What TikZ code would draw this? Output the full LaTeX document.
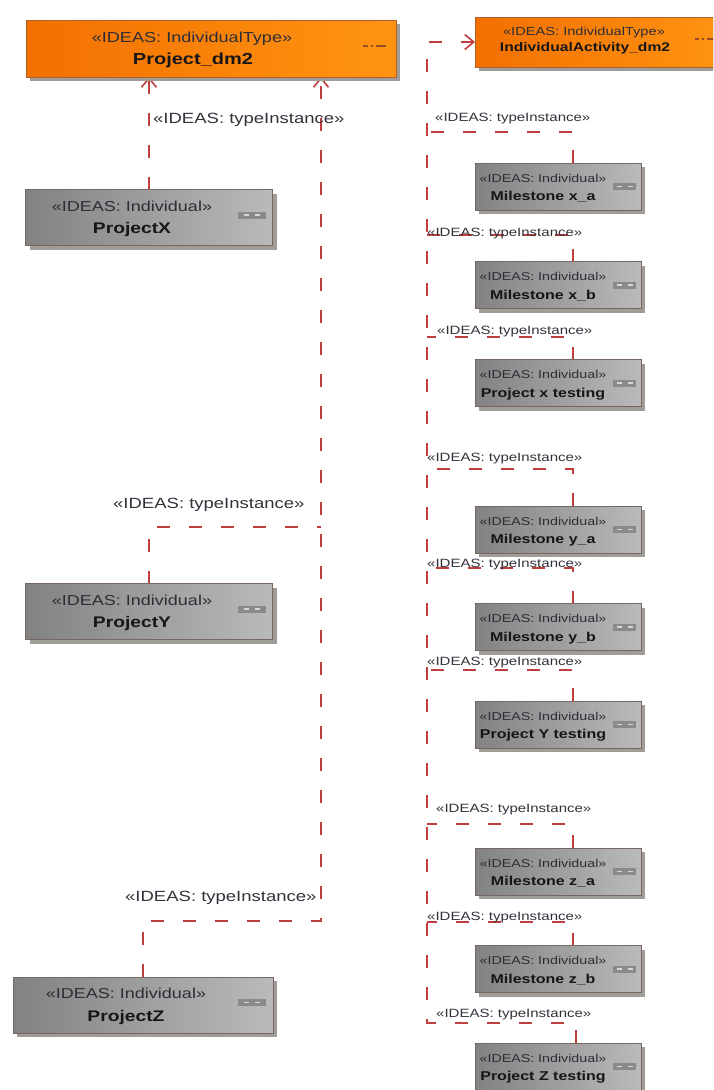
\documentclass[tikz,border=0pt]{standalone}
\usepackage{fontspec}
\setmainfont{Liberation Sans}[FakeStretch=1.25]
\usetikzlibrary{arrows.meta,shadows}

\definecolor{linkred}{RGB}{192,62,62}
\definecolor{orangeL}{RGB}{242,112,0}
\definecolor{orangeR}{RGB}{255,148,18}
\definecolor{orangeedge}{RGB}{176,96,40}
\definecolor{orangedash}{RGB}{150,78,40}
\definecolor{grayL}{RGB}{130,130,130}
\definecolor{grayR}{RGB}{186,186,186}
\definecolor{grayedge}{RGB}{118,104,96}
\definecolor{shadowc}{RGB}{160,156,152}
\definecolor{iconfill}{RGB}{138,138,138}
\definecolor{icondash}{RGB}{215,215,215}
\definecolor{sttext}{RGB}{45,45,55}
\definecolor{nmtext}{RGB}{22,22,22}
\definecolor{lbltext}{RGB}{50,50,60}

\pgfdeclarelayer{paper}
\pgfdeclarelayer{wires}
\pgfsetlayers{paper,wires,main}

% boxes for individuals on the right-hand column
\newcommand\rightind[3]{%
  \node[graybox, minimum width=166pt, minimum height=47pt] (#1) at (558,#2) {};
  \node[dotsicon=23pt] (#1-i) at ([xshift=-16.5pt]#1.east) {};
  \node[stsmall] (#1-s) at ([xshift=-15pt,yshift=8.5pt]#1.center) {«IDEAS: Individual»};
  \node[nmsmall] (#1-n) at ([xshift=-15pt,yshift=-9.5pt]#1.center) {#3};
}
% boxes for individuals on the left-hand column
\newcommand\leftind[5]{%
  \node[graybox, minimum width=#4, minimum height=56pt] (#1) at (#2,#3) {};
  \node[dotsicon=28pt] (#1-i) at ([xshift=-21pt,yshift=2.5pt]#1.east) {};
  \node[stbig] (#1-s) at ([xshift=-17pt,yshift=11.5pt]#1.center) {«IDEAS: Individual»};
  \node[nmbig] (#1-n) at ([xshift=-17pt,yshift=-10.5pt]#1.center) {#5};
}

\begin{document}
\begin{tikzpicture}[x=1pt,y=-1pt,
  conn/.style={draw=linkred, line width=1.8pt, dash pattern=on 13pt off 19pt},
  opentip/.style={-{Straight Barb[length=9pt,width=15pt,line width=1.6pt]}},
  boxbase/.style={rectangle, inner sep=0pt, outer sep=0pt, line width=0.8pt,
    drop shadow={shadow xshift=4pt, shadow yshift=-4pt, fill=shadowc, opacity=1}},
  orangebox/.style={boxbase, draw=orangeedge, left color=orangeL, right color=orangeR},
  graybox/.style={boxbase, draw=grayedge, left color=grayL, right color=grayR},
  dotsicon/.style={rectangle, fill=iconfill, minimum width=#1, minimum height=7pt,
    inner sep=0pt, path picture={
      \draw[icondash, line width=1.8pt]
        ([xshift=-8pt]path picture bounding box.center) -- ++(5pt,0pt)
        ([xshift=3pt]path picture bounding box.center) -- ++(5pt,0pt);}},
  txt/.style={inner sep=0pt, text depth=0pt},
  stbig/.style={txt, text=sttext, font=\fontsize{14.4pt}{16pt}\selectfont, text height=10.3pt},
  nmbig/.style={txt, text=nmtext, font=\fontsize{15.4pt}{18pt}\selectfont\bfseries, text height=11pt},
  stsmall/.style={txt, text=sttext, font=\fontsize{11.4pt}{13pt}\selectfont, text height=8.2pt},
  nmsmall/.style={txt, text=nmtext, font=\fontsize{12.8pt}{15pt}\selectfont\bfseries, text height=9.2pt},
  lblbig/.style={txt, anchor=west, text=lbltext, font=\fontsize{14.8pt}{17pt}\selectfont, text height=10.6pt},
  lblsmall/.style={txt, anchor=west, text=lbltext, font=\fontsize{12pt}{14pt}\selectfont, text height=8.6pt},
]
\useasboundingbox (0,0) rectangle (713,1090);
\begin{pgfonlayer}{paper}
  \fill[white] (0,0) rectangle (713,1090);
\end{pgfonlayer}
\clip (0,0) rectangle (713,1090);

% ---- types ----
\node[orangebox, minimum width=370pt, minimum height=57pt] (pd) at (211,48.5) {};
\node[txt, text=sttext, font=\fontsize{14.5pt}{16pt}\selectfont, text height=10.4pt]
  (pd-s) at ([xshift=-19pt,yshift=11.5pt]pd.center) {«IDEAS: IndividualType»};
\node[txt, text=nmtext, font=\fontsize{16pt}{18pt}\selectfont\bfseries, text height=11.5pt]
  (pd-n) at ([xshift=-18pt,yshift=-10.5pt]pd.center) {Project\_dm2};
\draw[orangedash, line width=1.6pt, dash pattern=on 5pt off 3pt on 2pt off 3pt on 10pt off 2pt]
  ([xshift=-33pt,yshift=2.5pt]pd.east) -- ([xshift=-9pt,yshift=2.5pt]pd.east);

\node[orangebox, minimum width=254pt, minimum height=50pt] (ad) at (602,42) {};
\node[txt, text=sttext, font=\fontsize{11.7pt}{14pt}\selectfont, text height=8.4pt]
  (ad-s) at ([xshift=-18pt,yshift=11pt]ad.center) {«IDEAS: IndividualType»};
\node[txt, text=nmtext, font=\fontsize{12.5pt}{15pt}\selectfont\bfseries, text height=9pt]
  (ad-n) at ([xshift=-17pt,yshift=-5pt]ad.center) {IndividualActivity\_dm2};
\draw[orangedash, line width=1.4pt, dash pattern=on 4pt off 3pt on 2pt off 3pt on 10pt off 2pt]
  ([xshift=-34pt,yshift=3pt]ad.east) -- ([xshift=-10pt,yshift=3pt]ad.east);

% ---- projects ----
\leftind{px}{149}{217.5}{247pt}{ProjectX}
\leftind{py}{149}{611.5}{247pt}{ProjectY}
\leftind{pz}{143}{1005}{260pt}{ProjectZ}

% ---- activities ----
\rightind{mxa}{186.5}{Milestone x\_a}
\rightind{mxb}{285}{Milestone x\_b}
\rightind{pxt}{383}{Project x testing}
\rightind{mya}{529.5}{Milestone y\_a}
\rightind{myb}{627}{Milestone y\_b}
\rightind{pyt}{724.5}{Project Y testing}
\rightind{mza}{871.5}{Milestone z\_a}
\rightind{mzb}{969}{Milestone z\_b}
\rightind{pzt}{1066.5}{Project Z testing}

% ---- connector labels ----
\node[lblbig] (tl1) at (153,118) {«IDEAS: typeInstance»};
\node[lblbig] (tl2) at (113,503) {«IDEAS: typeInstance»};
\node[lblbig] (tl3) at (125,896) {«IDEAS: typeInstance»};

\node[lblsmall] (tr1) at (435,117) {«IDEAS: typeInstance»};
\node[lblsmall] (tr2) at (427,232) {«IDEAS: typeInstance»};
\node[lblsmall] (tr3) at (437,330) {«IDEAS: typeInstance»};
\node[lblsmall] (tr4) at (427,457) {«IDEAS: typeInstance»};
\node[lblsmall] (tr5) at (427,563) {«IDEAS: typeInstance»};
\node[lblsmall] (tr6) at (427,661) {«IDEAS: typeInstance»};
\node[lblsmall] (tr7) at (436,808) {«IDEAS: typeInstance»};
\node[lblsmall] (tr8) at (427,916) {«IDEAS: typeInstance»};
\node[lblsmall] (tr9) at (436,1013) {«IDEAS: typeInstance»};

% ---- typeInstance connectors ----
\coordinate (ky) at (321,527);
\coordinate (kz) at (321,921);
\coordinate (jtop) at (427,42);
\coordinate (jxa) at (427,132);
\coordinate (jxb) at (427,235);
\coordinate (jxt) at (427,337);
\coordinate (jya) at (427,469);
\coordinate (jyb) at (427,568);
\coordinate (jyt) at (427,670);
\coordinate (jza) at (427,824);
\coordinate (jzb) at (427,922);
\coordinate (jzt) at (427,1023);

\begin{pgfonlayer}{wires}
  \draw[conn,opentip] (px.north) -- (pd.south -| px.north);
  \draw[conn] (py.north) |- (ky);
  \draw[conn,opentip] (pz.north) |- (kz) -- (pd.south -| kz);

  \draw[conn] ([xshift=15pt]mxa.north) |- (jxa);
  \draw[conn] ([xshift=15pt]mxb.north) |- (jxb);
  \draw[conn] ([xshift=15pt]pxt.north) |- (jxt);
  \draw[conn] ([xshift=15pt]mya.north) |- (jya);
  \draw[conn] ([xshift=15pt]myb.north) |- (jyb);
  \draw[conn] ([xshift=15pt]pyt.north) |- (jyt);
  \draw[conn] ([xshift=15pt]mza.north) |- (jza);
  \draw[conn] ([xshift=15pt]mzb.north) |- (jzb);
  \draw[conn,opentip] ([xshift=18pt]pzt.north) |- (jzt) -- (jtop) -- (ad.west);
\end{pgfonlayer}
\end{tikzpicture}
\end{document}
